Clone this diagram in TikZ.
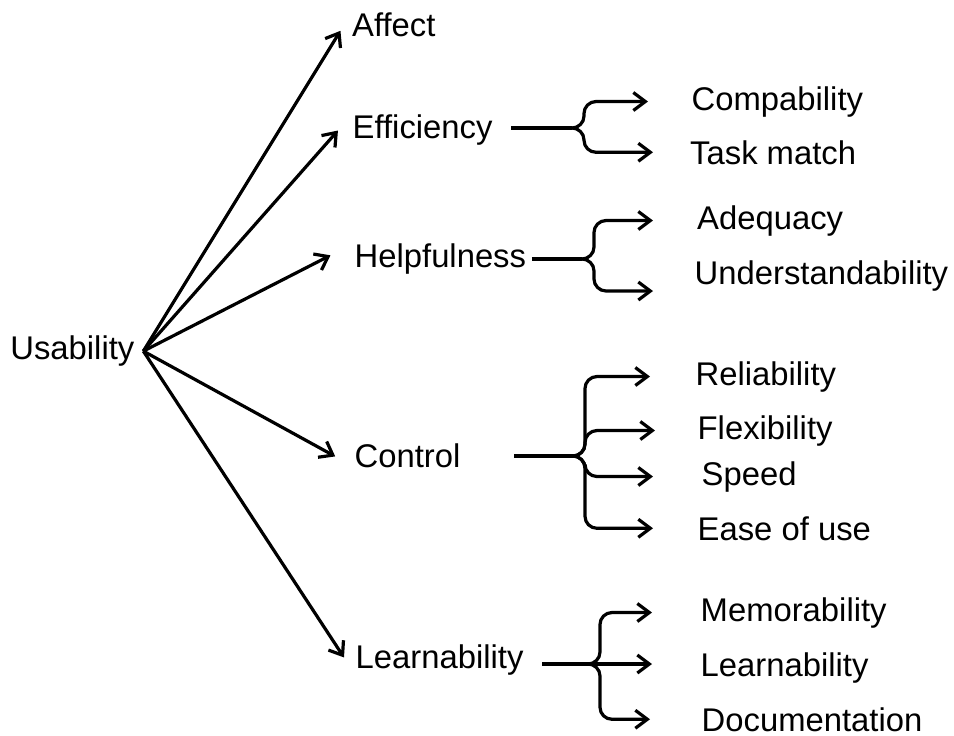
\documentclass[tikz,border=0pt]{standalone}
\usepackage{fontspec}
\setmainfont{Liberation Sans}
\usetikzlibrary{arrows.meta}

\tikzset{
lbl/.style={inner sep=0pt,anchor=base west,font=\fontsize{32.8}{39}\selectfont},
hubarrow/.style={line width=3.2pt,-{Straight Barb[length=12pt,width=18pt]}},
stem/.style={line width=4.4pt},
branch/.style={line width=3.2pt,rounded corners=12pt,-{Straight Barb[length=12pt,width=18pt]}}
}

\begin{document}
\begin{tikzpicture}[x=1pt,y=-1pt]

\fill[white] (0,0) rectangle (954,736);
\useasboundingbox (0,0) rectangle (954,736);

\node[lbl,outer xsep=9pt] (Usability) at (1.4,359.6) {Usability};

\node[lbl] (Affect) at (352,36) {Affect};
\node[lbl] (Efficiency) at (352.5,138) {Efficiency};
\node[lbl] (Helpfulness) at (354.5,267) {Helpfulness};
\node[lbl] (Control) at (354.5,467) {Control};
\node[lbl] (Learnability) at (355.5,668) {Learnability};

\draw[hubarrow,shorten >=22pt] (Usability.east) -- (Affect.north west);
\draw[hubarrow,shorten >=22pt] (Usability.east) -- (Efficiency.north west);
\draw[hubarrow,shorten >=27pt] (Usability.east) -- (Helpfulness.north west);
\draw[hubarrow,shorten >=22pt] (Usability.east) -- (Control.base west);
\draw[hubarrow,shorten >=21pt] (Usability.east) -- (Learnability.south west);

\node[lbl] (Compability) at (691.5,110) {Compability};
\node[lbl] (Taskmatch) at (690,164) {Task match};
\node[lbl] (Adequacy) at (697,229) {Adequacy};
\node[lbl] (Understandability) at (694.5,284) {Understandability};
\node[lbl] (Reliability) at (695.5,385) {Reliability};
\node[lbl] (Flexibility) at (697.5,439) {Flexibility};
\node[lbl] (Speed) at (701.5,485) {Speed};
\node[lbl] (Easeofuse) at (697.5,540) {Ease of use};
\node[lbl] (Memorability) at (700.5,621) {Memorability};
\node[lbl] (Learn) at (700.5,676) {Learnability};
\node[lbl] (Documentation) at (701.5,731) {Documentation};

\coordinate (efsplit) at (572,128);
\coordinate (hpsplit) at (582,259);
\coordinate (ctsplit) at (575,456);
\coordinate (lnsplit) at (588,664);

\draw[stem,shorten <=18.5pt] (Efficiency.east |- efsplit) -- (efsplit);
\draw[branch,shorten >=43.5pt] (efsplit) -- ++(12,0) |- (Compability.west);
\draw[branch,shorten >=37pt] (efsplit) -- ++(12,0) |- (Taskmatch.west);

\draw[stem,shorten <=5.7pt] (Helpfulness.east |- hpsplit) -- (hpsplit);
\draw[branch,shorten >=44pt] (hpsplit) -- ++(12,0) |- (Adequacy.west);
\draw[branch,shorten >=41.5pt] (hpsplit) -- ++(12,0) |- (Understandability.south west);

\draw[stem,shorten <=53.8pt] (Control.east |- ctsplit) -- (ctsplit);
\draw[branch,shorten >=45.5pt] (ctsplit) -- ++(10,0) |- (Reliability.west);
\draw[branch,shorten >=42.5pt] (ctsplit) -- ++(10,0) |- (Flexibility.west);
\draw[branch,shorten >=48.5pt] (ctsplit) -- ++(10,0) |- (Speed.west);
\draw[branch,shorten >=44.5pt] (ctsplit) -- ++(10,0) |- (Easeofuse.west);

\draw[stem,shorten <=18.5pt] (Learnability.east |- lnsplit) -- (lnsplit);
\draw[branch,shorten >=48.5pt] (lnsplit) -- ++(12,0) |- (Memorability.west);
\draw[branch,shorten >=48.5pt] (lnsplit) -- (Learn.west |- lnsplit);
\draw[branch,shorten >=51.5pt] (lnsplit) -- ++(12,0) |- (Documentation.west);

\end{tikzpicture}
\end{document}
